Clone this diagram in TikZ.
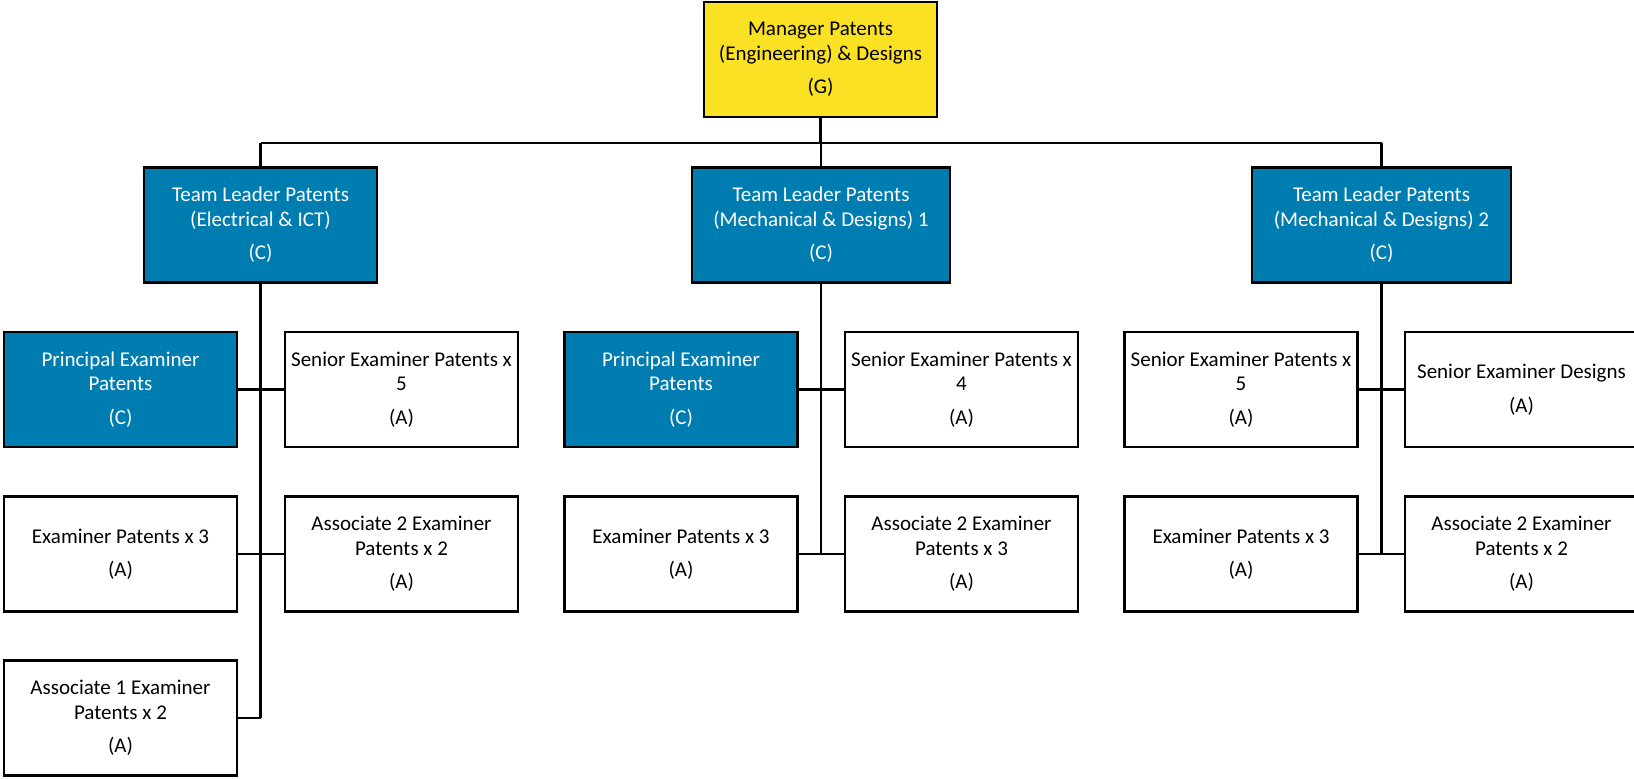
\documentclass[tikz,border=0pt]{standalone}
\usepackage{fontspec}
\setmainfont{Carlito}
\definecolor{mgryellow}{RGB}{250,225,35}
\definecolor{tlblue}{RGB}{0,125,176}
\tikzset{
  box/.style={draw=black, line width=2.4pt, minimum width=233pt, minimum height=115pt,
    inner sep=0pt, outer sep=0pt, align=center, font=\fontsize{21}{24.5}\selectfont},
  wbox/.style={box, fill=white, text=black},
  bbox/.style={box, fill=tlblue, text=white},
  ybox/.style={box, fill=mgryellow, text=black},
  vline/.style={line width=2.8pt},
  hline/.style={line width=2.2pt}
}
\begin{document}
\begin{tikzpicture}[x=1pt,y=-1pt]
\useasboundingbox (0,0) rectangle (1634,779);
% nodes
\node[ybox] (mgr) at (820.5,59.5) {Manager Patents\\(Engineering) \& Designs\\[9pt](G)};
\node[bbox] (tl1) at (260.5,225) {Team Leader Patents\\(Electrical \& ICT)\\[9pt](C)};
\node[bbox, minimum width=258pt] (tl2) at (821,225) {Team Leader Patents\\(Mechanical \& Designs) 1\\[9pt](C)};
\node[bbox, minimum width=259pt] (tl3) at (1381.5,225) {Team Leader Patents\\(Mechanical \& Designs) 2\\[9pt](C)};
% column 1
\node[bbox] (pe1) at (120.5,389.5) {Principal Examiner\\Patents\\[9pt](C)};
\node[wbox] (se1) at (401.5,389.5) {Senior Examiner Patents x\\5\\[9pt](A)};
\node[wbox] (ex1) at (120.5,554) {Examiner Patents x 3\\[9pt](A)};
\node[wbox] (as1) at (401.5,554) {Associate 2 Examiner\\Patents x 2\\[9pt](A)};
\node[wbox] (aa1) at (120.5,718) {Associate 1 Examiner\\Patents x 2\\[9pt](A)};
% column 2
\node[bbox] (pe2) at (681,389.5) {Principal Examiner\\Patents\\[9pt](C)};
\node[wbox] (se2) at (961.5,389.5) {Senior Examiner Patents x\\4\\[9pt](A)};
\node[wbox] (ex2) at (681,554) {Examiner Patents x 3\\[9pt](A)};
\node[wbox] (as2) at (961.5,554) {Associate 2 Examiner\\Patents x 3\\[9pt](A)};
% column 3
\node[wbox] (se3) at (1241,389.5) {Senior Examiner Patents x\\5\\[9pt](A)};
\node[wbox] (sd3) at (1521.5,389.5) {Senior Examiner Designs\\[9pt](A)};
\node[wbox] (ex3) at (1241,554) {Examiner Patents x 3\\[9pt](A)};
\node[wbox] (as3) at (1521.5,554) {Associate 2 Examiner\\Patents x 2\\[9pt](A)};
% coordinates
\coordinate (bus) at (820.5,143);
\coordinate (c1) at (260.5,718);
\coordinate (c2) at (821,554);
\coordinate (c3) at (1381.5,554);
% connectors
\begin{scope}[on background layer/.style={}]
\draw[vline] (mgr.south) -- (bus);
\draw[hline] (tl1.north |- bus) -- (tl3.north |- bus);
\draw[vline] (tl1.north |- bus) -- (tl1.north);
\draw[vline] (tl2.north |- bus) -- (tl2.north);
\draw[vline] (tl3.north |- bus) -- (tl3.north);
\draw[vline] (tl1.south) -- (c1);
\draw[hline] (aa1.east) -- (c1);
\draw[hline] (pe1.east) -- (se1.west);
\draw[hline] (ex1.east) -- (as1.west);
\draw[vline] (tl2.south) -- (c2);
\draw[hline] (pe2.east) -- (se2.west);
\draw[hline] (ex2.east) -- (as2.west);
\draw[vline] (tl3.south) -- (c3);
\draw[hline] (se3.east) -- (sd3.west);
\draw[hline] (ex3.east) -- (as3.west);
\end{scope}
\end{tikzpicture}
\end{document}
